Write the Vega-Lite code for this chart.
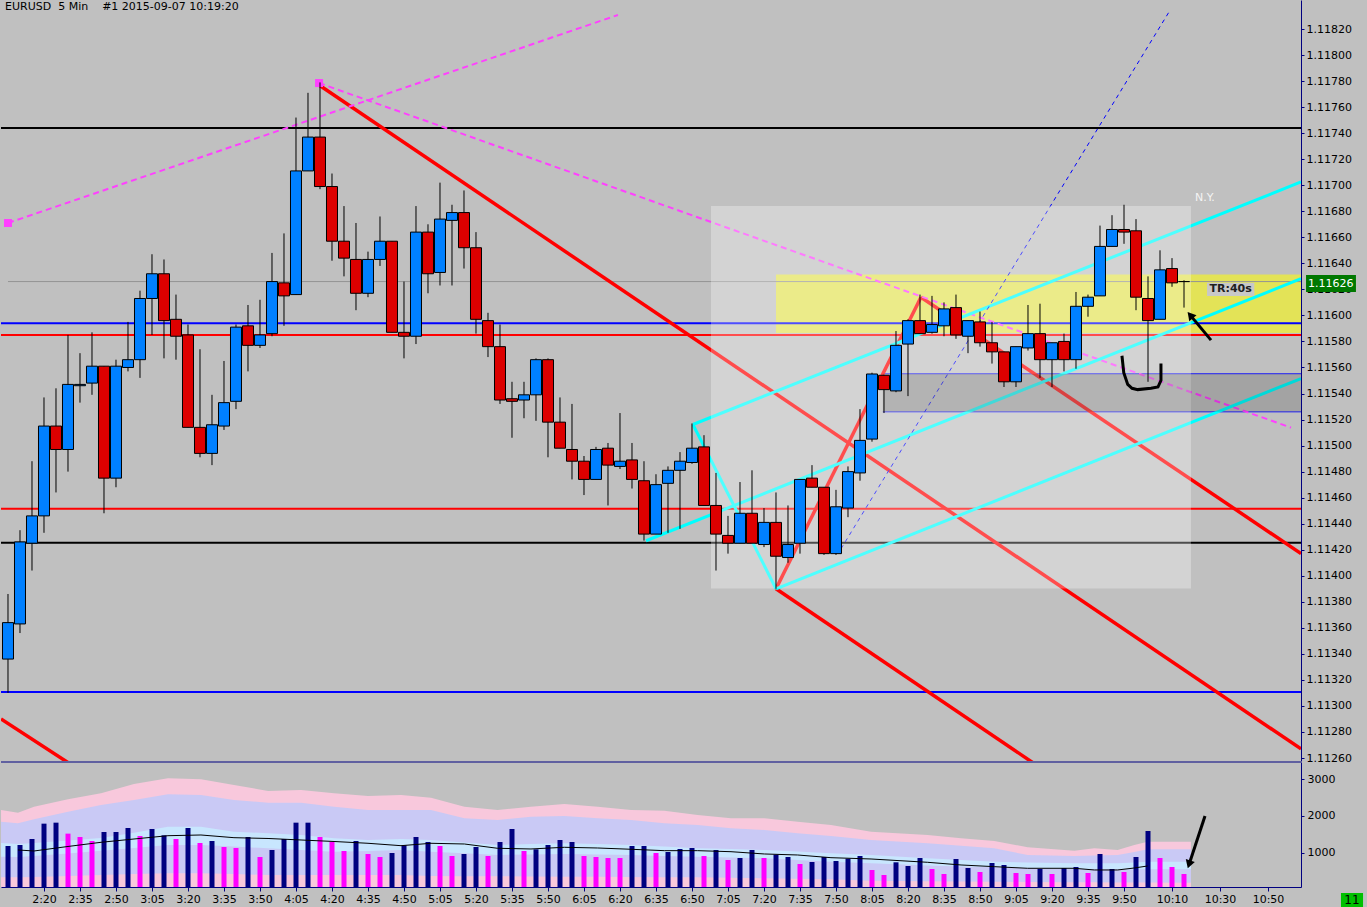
{
  "$schema": "https://vega.github.io/schema/vega-lite/v6.json",
  "background": "#c0c0c0",
  "padding": {"left": 0, "top": 0, "right": 5, "bottom": 0},
  "spacing": 1,
  "bounds": "flush",
  "config": {
    "view": {"stroke": null},
    "axis": {"labelFont": "DejaVu Sans", "labelFontSize": 11, "labelColor": "#000000", "domainColor": "#000080", "tickColor": "#000080", "grid": false, "tickSize": 3, "labelPadding": 2},
    "text": {"font": "DejaVu Sans"}
  },
  "resolve": {"scale": {"x": "independent", "y": "independent"}},
  "datasets": {
    "bars": [
      {"i":0,"o":1.11336,"h":1.11386,"l":1.11310,"c":1.11364,"v":1183,"vd":"up"},
      {"i":1,"o":1.11363,"h":1.11435,"l":1.11356,"c":1.11426,"v":1210,"vd":"up"},
      {"i":2,"o":1.11425,"h":1.11488,"l":1.11404,"c":1.11446,"v":1373,"vd":"up"},
      {"i":3,"o":1.11446,"h":1.11537,"l":1.11433,"c":1.11515,"v":1791,"vd":"up"},
      {"i":4,"o":1.11515,"h":1.11544,"l":1.11464,"c":1.11497,"v":1818,"vd":"up"},
      {"i":5,"o":1.11497,"h":1.11585,"l":1.11480,"c":1.11547,"v":1519,"vd":"down"},
      {"i":6,"o":1.11546,"h":1.11571,"l":1.11533,"c":1.11547,"v":1428,"vd":"down"},
      {"i":7,"o":1.11548,"h":1.11587,"l":1.11539,"c":1.11561,"v":1319,"vd":"down"},
      {"i":8,"o":1.11561,"h":1.11561,"l":1.11448,"c":1.11475,"v":1564,"vd":"up"},
      {"i":9,"o":1.11475,"h":1.11566,"l":1.11468,"c":1.11561,"v":1564,"vd":"up"},
      {"i":10,"o":1.11560,"h":1.11595,"l":1.11557,"c":1.11566,"v":1673,"vd":"up"},
      {"i":11,"o":1.11566,"h":1.11619,"l":1.11552,"c":1.11613,"v":1455,"vd":"down"},
      {"i":12,"o":1.11613,"h":1.11647,"l":1.11585,"c":1.11632,"v":1646,"vd":"up"},
      {"i":13,"o":1.11632,"h":1.11643,"l":1.11567,"c":1.11596,"v":1473,"vd":"up"},
      {"i":14,"o":1.11597,"h":1.11616,"l":1.11566,"c":1.11584,"v":1373,"vd":"down"},
      {"i":15,"o":1.11585,"h":1.11593,"l":1.11514,"c":1.11514,"v":1673,"vd":"up"},
      {"i":16,"o":1.11514,"h":1.11574,"l":1.11491,"c":1.11494,"v":1264,"vd":"down"},
      {"i":17,"o":1.11494,"h":1.11539,"l":1.11485,"c":1.11516,"v":1319,"vd":"up"},
      {"i":18,"o":1.11515,"h":1.11565,"l":1.11512,"c":1.11533,"v":1155,"vd":"down"},
      {"i":19,"o":1.11534,"h":1.11593,"l":1.11528,"c":1.11591,"v":1128,"vd":"down"},
      {"i":20,"o":1.11592,"h":1.11608,"l":1.11557,"c":1.11577,"v":1428,"vd":"up"},
      {"i":21,"o":1.11577,"h":1.11612,"l":1.11575,"c":1.11585,"v":883,"vd":"down"},
      {"i":22,"o":1.11586,"h":1.11648,"l":1.11584,"c":1.11626,"v":1074,"vd":"up"},
      {"i":23,"o":1.11625,"h":1.11663,"l":1.11592,"c":1.11615,"v":1373,"vd":"up"},
      {"i":24,"o":1.11616,"h":1.11752,"l":1.11616,"c":1.11711,"v":1818,"vd":"up"},
      {"i":25,"o":1.11711,"h":1.11771,"l":1.11711,"c":1.11737,"v":1818,"vd":"up"},
      {"i":26,"o":1.11737,"h":1.11779,"l":1.11697,"c":1.11699,"v":1428,"vd":"down"},
      {"i":27,"o":1.11699,"h":1.11709,"l":1.11642,"c":1.11657,"v":1301,"vd":"down"},
      {"i":28,"o":1.11657,"h":1.11684,"l":1.11630,"c":1.11644,"v":1046,"vd":"down"},
      {"i":29,"o":1.11643,"h":1.11671,"l":1.11604,"c":1.11617,"v":1319,"vd":"up"},
      {"i":30,"o":1.11617,"h":1.11649,"l":1.11614,"c":1.11643,"v":965,"vd":"down"},
      {"i":31,"o":1.11643,"h":1.11676,"l":1.11638,"c":1.11657,"v":883,"vd":"down"},
      {"i":32,"o":1.11657,"h":1.11657,"l":1.11587,"c":1.11587,"v":992,"vd":"up"},
      {"i":33,"o":1.11587,"h":1.11626,"l":1.11567,"c":1.11584,"v":1201,"vd":"up"},
      {"i":34,"o":1.11584,"h":1.11684,"l":1.11578,"c":1.11664,"v":1428,"vd":"up"},
      {"i":35,"o":1.11664,"h":1.11670,"l":1.11617,"c":1.11632,"v":1292,"vd":"up"},
      {"i":36,"o":1.11633,"h":1.11702,"l":1.11623,"c":1.11674,"v":1183,"vd":"down"},
      {"i":37,"o":1.11673,"h":1.11685,"l":1.11623,"c":1.11679,"v":910,"vd":"down"},
      {"i":38,"o":1.11679,"h":1.11696,"l":1.11636,"c":1.11652,"v":965,"vd":"up"},
      {"i":39,"o":1.11652,"h":1.11664,"l":1.11586,"c":1.11597,"v":1155,"vd":"up"},
      {"i":40,"o":1.11596,"h":1.11602,"l":1.11568,"c":1.11576,"v":910,"vd":"down"},
      {"i":41,"o":1.11576,"h":1.11593,"l":1.11532,"c":1.11535,"v":1292,"vd":"up"},
      {"i":42,"o":1.11536,"h":1.11549,"l":1.11506,"c":1.11534,"v":1646,"vd":"up"},
      {"i":43,"o":1.11535,"h":1.11549,"l":1.11521,"c":1.11539,"v":1046,"vd":"down"},
      {"i":44,"o":1.11539,"h":1.11567,"l":1.11519,"c":1.11566,"v":1092,"vd":"up"},
      {"i":45,"o":1.11566,"h":1.11567,"l":1.11491,"c":1.11518,"v":1210,"vd":"up"},
      {"i":46,"o":1.11518,"h":1.11537,"l":1.11498,"c":1.11498,"v":1346,"vd":"up"},
      {"i":47,"o":1.11497,"h":1.11532,"l":1.11474,"c":1.11488,"v":1292,"vd":"up"},
      {"i":48,"o":1.11488,"h":1.11492,"l":1.11462,"c":1.11474,"v":910,"vd":"down"},
      {"i":49,"o":1.11474,"h":1.11499,"l":1.11474,"c":1.11497,"v":883,"vd":"down"},
      {"i":50,"o":1.11498,"h":1.11502,"l":1.11454,"c":1.11485,"v":856,"vd":"down"},
      {"i":51,"o":1.11484,"h":1.11525,"l":1.11482,"c":1.11488,"v":856,"vd":"down"},
      {"i":52,"o":1.11489,"h":1.11502,"l":1.11467,"c":1.11474,"v":1183,"vd":"up"},
      {"i":53,"o":1.11473,"h":1.11488,"l":1.11427,"c":1.11432,"v":1183,"vd":"up"},
      {"i":54,"o":1.11432,"h":1.11478,"l":1.11432,"c":1.11470,"v":992,"vd":"down"},
      {"i":55,"o":1.11471,"h":1.11484,"l":1.11433,"c":1.11481,"v":1019,"vd":"up"},
      {"i":56,"o":1.11481,"h":1.11495,"l":1.11436,"c":1.11488,"v":1101,"vd":"up"},
      {"i":57,"o":1.11487,"h":1.11517,"l":1.11486,"c":1.11498,"v":1128,"vd":"up"},
      {"i":58,"o":1.11499,"h":1.11508,"l":1.11454,"c":1.11454,"v":910,"vd":"down"},
      {"i":59,"o":1.11454,"h":1.11479,"l":1.11404,"c":1.11432,"v":1074,"vd":"up"},
      {"i":60,"o":1.11431,"h":1.11446,"l":1.11417,"c":1.11425,"v":801,"vd":"down"},
      {"i":61,"o":1.11425,"h":1.11472,"l":1.11425,"c":1.11448,"v":856,"vd":"up"},
      {"i":62,"o":1.11448,"h":1.11481,"l":1.11425,"c":1.11425,"v":1074,"vd":"up"},
      {"i":63,"o":1.11424,"h":1.11452,"l":1.11422,"c":1.11441,"v":856,"vd":"down"},
      {"i":64,"o":1.11441,"h":1.11464,"l":1.11390,"c":1.11415,"v":946,"vd":"up"},
      {"i":65,"o":1.11414,"h":1.11454,"l":1.11410,"c":1.11424,"v":883,"vd":"up"},
      {"i":66,"o":1.11425,"h":1.11474,"l":1.11417,"c":1.11474,"v":692,"vd":"down"},
      {"i":67,"o":1.11475,"h":1.11485,"l":1.11468,"c":1.11468,"v":747,"vd":"up"},
      {"i":68,"o":1.11468,"h":1.11468,"l":1.11416,"c":1.11417,"v":883,"vd":"up"},
      {"i":69,"o":1.11417,"h":1.11466,"l":1.11416,"c":1.11453,"v":774,"vd":"up"},
      {"i":70,"o":1.11452,"h":1.11484,"l":1.11445,"c":1.11480,"v":837,"vd":"up"},
      {"i":71,"o":1.11479,"h":1.11528,"l":1.11473,"c":1.11504,"v":910,"vd":"up"},
      {"i":72,"o":1.11505,"h":1.11556,"l":1.11503,"c":1.11555,"v":529,"vd":"down"},
      {"i":73,"o":1.11554,"h":1.11554,"l":1.11525,"c":1.11543,"v":392,"vd":"down"},
      {"i":74,"o":1.11542,"h":1.11588,"l":1.11541,"c":1.11577,"v":738,"vd":"up"},
      {"i":75,"o":1.11578,"h":1.11597,"l":1.11538,"c":1.11596,"v":638,"vd":"up"},
      {"i":76,"o":1.11596,"h":1.11616,"l":1.11586,"c":1.11586,"v":856,"vd":"up"},
      {"i":77,"o":1.11587,"h":1.11615,"l":1.11586,"c":1.11593,"v":556,"vd":"down"},
      {"i":78,"o":1.11592,"h":1.11610,"l":1.11584,"c":1.11605,"v":420,"vd":"down"},
      {"i":79,"o":1.11606,"h":1.11616,"l":1.11582,"c":1.11585,"v":828,"vd":"up"},
      {"i":80,"o":1.11584,"h":1.11596,"l":1.11571,"c":1.11596,"v":583,"vd":"up"},
      {"i":81,"o":1.11595,"h":1.11603,"l":1.11576,"c":1.11579,"v":474,"vd":"down"},
      {"i":82,"o":1.11579,"h":1.11595,"l":1.11563,"c":1.11572,"v":719,"vd":"up"},
      {"i":83,"o":1.11572,"h":1.11572,"l":1.11545,"c":1.11549,"v":665,"vd":"up"},
      {"i":84,"o":1.11549,"h":1.11576,"l":1.11545,"c":1.11576,"v":447,"vd":"down"},
      {"i":85,"o":1.11575,"h":1.11608,"l":1.11573,"c":1.11586,"v":420,"vd":"down"},
      {"i":86,"o":1.11586,"h":1.11609,"l":1.11552,"c":1.11566,"v":556,"vd":"up"},
      {"i":87,"o":1.11566,"h":1.11579,"l":1.11545,"c":1.11579,"v":420,"vd":"down"},
      {"i":88,"o":1.11580,"h":1.11586,"l":1.11557,"c":1.11566,"v":583,"vd":"up"},
      {"i":89,"o":1.11566,"h":1.11618,"l":1.11559,"c":1.11607,"v":610,"vd":"up"},
      {"i":90,"o":1.11607,"h":1.11616,"l":1.11599,"c":1.11614,"v":447,"vd":"down"},
      {"i":91,"o":1.11615,"h":1.11669,"l":1.11615,"c":1.11653,"v":965,"vd":"up"},
      {"i":92,"o":1.11653,"h":1.11677,"l":1.11653,"c":1.11666,"v":556,"vd":"up"},
      {"i":93,"o":1.11666,"h":1.11685,"l":1.11655,"c":1.11664,"v":474,"vd":"down"},
      {"i":94,"o":1.11665,"h":1.11674,"l":1.11604,"c":1.11614,"v":883,"vd":"up"},
      {"i":95,"o":1.11613,"h":1.11630,"l":1.11549,"c":1.11596,"v":1591,"vd":"up"},
      {"i":96,"o":1.11597,"h":1.11650,"l":1.11597,"c":1.11635,"v":856,"vd":"down"},
      {"i":97,"o":1.11636,"h":1.11644,"l":1.11622,"c":1.11625,"v":610,"vd":"down"},
      {"i":98,"o":1.11626,"h":1.11627,"l":1.11606,"c":1.11626,"v":420,"vd":"down"}
    ],
    "bands": [
      {"i":-0.58,"pt":2164,"lt":1845,"bt":1264,"bb":891,"lb":330,"ma":1093},
      {"i":0.83,"pt":2090,"lt":1801,"bt":1237,"bb":883,"lb":330,"ma":1074},
      {"i":2.17,"pt":2254,"lt":1910,"bt":1264,"bb":910,"lb":338,"ma":1046},
      {"i":5,"pt":2455,"lt":2117,"bt":1333,"bb":978,"lb":365,"ma":1169},
      {"i":7.75,"pt":2619,"lt":2300,"bt":1401,"bb":1055,"lb":392,"ma":1283},
      {"i":10.5,"pt":2872,"lt":2436,"bt":1545,"bb":1128,"lb":420,"ma":1373},
      {"i":13.33,"pt":3027,"lt":2591,"bt":1709,"bb":1210,"lb":439,"ma":1463},
      {"i":16.08,"pt":3000,"lt":2572,"bt":1709,"bb":1210,"lb":439,"ma":1482},
      {"i":18.83,"pt":2845,"lt":2436,"bt":1572,"bb":1169,"lb":420,"ma":1409},
      {"i":21.67,"pt":2681,"lt":2363,"bt":1529,"bb":1120,"lb":392,"ma":1387},
      {"i":24.42,"pt":2709,"lt":2363,"bt":1482,"bb":1074,"lb":392,"ma":1346},
      {"i":27.17,"pt":2619,"lt":2254,"bt":1392,"bb":1027,"lb":392,"ma":1305},
      {"i":30,"pt":2545,"lt":2164,"bt":1346,"bb":1046,"lb":392,"ma":1256},
      {"i":32.75,"pt":2572,"lt":2164,"bt":1373,"bb":1074,"lb":392,"ma":1191},
      {"i":35.25,"pt":2499,"lt":2164,"bt":1346,"bb":1027,"lb":365,"ma":1256},
      {"i":38.03,"pt":2254,"lt":1937,"bt":1278,"bb":984,"lb":360,"ma":1237},
      {"i":40.8,"pt":2164,"lt":1891,"bt":1210,"bb":937,"lb":357,"ma":1120},
      {"i":43.58,"pt":2254,"lt":1981,"bt":1237,"bb":951,"lb":352,"ma":1101},
      {"i":46.36,"pt":2327,"lt":2000,"bt":1256,"bb":965,"lb":346,"ma":1147},
      {"i":49.14,"pt":2254,"lt":1937,"bt":1237,"bb":951,"lb":343,"ma":1128},
      {"i":51.92,"pt":2164,"lt":1891,"bt":1210,"bb":937,"lb":338,"ma":1093},
      {"i":54.69,"pt":2145,"lt":1801,"bt":1169,"bb":910,"lb":332,"ma":1055},
      {"i":57.47,"pt":2027,"lt":1755,"bt":1120,"bb":891,"lb":330,"ma":1055},
      {"i":60.25,"pt":1937,"lt":1665,"bt":1101,"bb":869,"lb":316,"ma":1027},
      {"i":63.03,"pt":1937,"lt":1619,"bt":1074,"bb":847,"lb":302,"ma":965},
      {"i":65.8,"pt":1845,"lt":1529,"bt":1033,"bb":801,"lb":289,"ma":937},
      {"i":68.58,"pt":1755,"lt":1455,"bt":984,"bb":755,"lb":275,"ma":864},
      {"i":71.92,"pt":1572,"lt":1346,"bt":937,"bb":711,"lb":237,"ma":828},
      {"i":76.64,"pt":1482,"lt":1256,"bt":847,"bb":651,"lb":223,"ma":738},
      {"i":79.42,"pt":1392,"lt":1188,"bt":801,"bb":627,"lb":218,"ma":665},
      {"i":82.19,"pt":1319,"lt":1120,"bt":755,"bb":602,"lb":210,"ma":619},
      {"i":84.97,"pt":1147,"lt":937,"bt":733,"bb":583,"lb":202,"ma":575},
      {"i":88.86,"pt":1055,"lt":910,"bt":711,"bb":548,"lb":196,"ma":575},
      {"i":90.53,"pt":1120,"lt":924,"bt":711,"bb":548,"lb":193,"ma":529},
      {"i":92.47,"pt":1074,"lt":937,"bt":711,"bb":548,"lb":191,"ma":529},
      {"i":93.86,"pt":1210,"lt":1019,"bt":733,"bb":548,"lb":188,"ma":583},
      {"i":94.97,"pt":1300,"lt":1093,"bt":755,"bb":548,"lb":185,"ma":638},
      {"i":98.58,"pt":1300,"lt":1093,"bt":755,"bb":548,"lb":183,"ma":638}
    ]
  },
  "vconcat": [
    {
      "width": 1300,
      "height": 761,
      "encoding": {
        "x": {"field": "i", "type": "quantitative", "scale": {"domain": [-0.5833, 107.75], "nice": false, "zero": false, "padding": 0}, "axis": null}
      },
      "layer": [
        {
          "data": {"values": [{"i": 64, "i2": 107.75, "p": 1.116315, "p2": 1.115864}]},
          "mark": {"type": "rect", "fill": "#ffff00", "opacity": 0.55},
          "encoding": {
            "x2": {"field": "i2"},
            "y": {"field": "p", "type": "quantitative", "scale": {"domain": [1.112577, 1.118423], "nice": false, "zero": false, "padding": 0},
              "axis": {"orient": "right", "title": null, "format": ".5f", "labelOverlap": false, "values": [1.1126, 1.1128, 1.113, 1.1132, 1.1134, 1.1136, 1.1138, 1.114, 1.1142, 1.1144, 1.1146, 1.1148, 1.115, 1.1152, 1.1154, 1.1156, 1.1158, 1.116, 1.1162, 1.1164, 1.1166, 1.1168, 1.117, 1.1172, 1.1174, 1.1176, 1.1178, 1.118, 1.1182]}},
            "y2": {"field": "p2"}
          }
        },
        {
          "data": {"values": [{"i": -0.5833, "i2": 107.75, "p": 1.11744}, {"i": -0.5833, "i2": 107.75, "p": 1.114254}]},
          "mark": {"type": "rule", "color": "#000000", "strokeWidth": 2},
          "encoding": {"x2": {"field": "i2"}, "y": {"field": "p", "type": "quantitative", "scale": {"domain": [1.112577, 1.118423], "nice": false, "zero": false, "padding": 0},
            "axis": {"orient": "right", "title": null, "format": ".5f", "labelOverlap": false, "values": [1.1126, 1.1128, 1.113, 1.1132, 1.1134, 1.1136, 1.1138, 1.114, 1.1142, 1.1144, 1.1146, 1.1148, 1.115, 1.1152, 1.1154, 1.1156, 1.1158, 1.116, 1.1162, 1.1164, 1.1166, 1.1168, 1.117, 1.1172, 1.1174, 1.1176, 1.1178, 1.118, 1.1182]}}}
        },
        {
          "data": {"values": [{"i": -0.5833, "i2": 107.75, "p": 1.11594}, {"i": -0.5833, "i2": 107.75, "p": 1.113108}]},
          "mark": {"type": "rule", "color": "#0000ff", "strokeWidth": 2},
          "encoding": {"x2": {"field": "i2"}, "y": {"field": "p", "type": "quantitative", "scale": {"domain": [1.112577, 1.118423], "nice": false, "zero": false, "padding": 0},
            "axis": {"orient": "right", "title": null, "format": ".5f", "labelOverlap": false, "values": [1.1126, 1.1128, 1.113, 1.1132, 1.1134, 1.1136, 1.1138, 1.114, 1.1142, 1.1144, 1.1146, 1.1148, 1.115, 1.1152, 1.1154, 1.1156, 1.1158, 1.116, 1.1162, 1.1164, 1.1166, 1.1168, 1.117, 1.1172, 1.1174, 1.1176, 1.1178, 1.118, 1.1182]}}}
        },
        {
          "data": {"values": [{"i": -0.5833, "i2": 107.75, "p": 1.11585}, {"i": -0.5833, "i2": 107.75, "p": 1.114515}]},
          "mark": {"type": "rule", "color": "#ff0000", "strokeWidth": 2},
          "encoding": {"x2": {"field": "i2"}, "y": {"field": "p", "type": "quantitative", "scale": {"domain": [1.112577, 1.118423], "nice": false, "zero": false, "padding": 0},
            "axis": {"orient": "right", "title": null, "format": ".5f", "labelOverlap": false, "values": [1.1126, 1.1128, 1.113, 1.1132, 1.1134, 1.1136, 1.1138, 1.114, 1.1142, 1.1144, 1.1146, 1.1148, 1.115, 1.1152, 1.1154, 1.1156, 1.1158, 1.116, 1.1162, 1.1164, 1.1166, 1.1168, 1.117, 1.1172, 1.1174, 1.1176, 1.1178, 1.118, 1.1182]}}}
        },
        {
          "data": {"values": [{"i": 0, "i2": 107.75, "p": 1.11626}]},
          "mark": {"type": "rule", "color": "#949494", "strokeWidth": 1},
          "encoding": {"x2": {"field": "i2"}, "y": {"field": "p", "type": "quantitative", "scale": {"domain": [1.112577, 1.118423], "nice": false, "zero": false, "padding": 0},
            "axis": {"orient": "right", "title": null, "format": ".5f", "labelOverlap": false, "values": [1.1126, 1.1128, 1.113, 1.1132, 1.1134, 1.1136, 1.1138, 1.114, 1.1142, 1.1144, 1.1146, 1.1148, 1.115, 1.1152, 1.1154, 1.1156, 1.1158, 1.116, 1.1162, 1.1164, 1.1166, 1.1168, 1.117, 1.1172, 1.1174, 1.1176, 1.1178, 1.118, 1.1182]}}}
        },
        {
          "data": {"values": [{"i": 72.9, "i2": 107.75, "p": 1.115552}, {"i": 72.9, "i2": 107.75, "p": 1.115259}]},
          "mark": {"type": "rule", "color": "#2020ff", "strokeWidth": 1},
          "encoding": {"x2": {"field": "i2"}, "y": {"field": "p", "type": "quantitative", "scale": {"domain": [1.112577, 1.118423], "nice": false, "zero": false, "padding": 0},
            "axis": {"orient": "right", "title": null, "format": ".5f", "labelOverlap": false, "values": [1.1126, 1.1128, 1.113, 1.1132, 1.1134, 1.1136, 1.1138, 1.114, 1.1142, 1.1144, 1.1146, 1.1148, 1.115, 1.1152, 1.1154, 1.1156, 1.1158, 1.116, 1.1162, 1.1164, 1.1166, 1.1168, 1.117, 1.1172, 1.1174, 1.1176, 1.1178, 1.118, 1.1182]}}}
        },
        {
          "data": {"values": [
            {"seg": "med", "i": 25.92, "p": 1.11777}, {"seg": "med", "i": 107.75, "p": 1.11267},
            {"seg": "lo", "i": 64, "p": 1.1139}, {"seg": "lo", "i": 91.08, "p": 1.11221},
            {"seg": "up", "i": 76.08, "p": 1.11614}, {"seg": "up", "i": 107.75, "p": 1.11417},
            {"seg": "hd", "i": 64, "p": 1.1139}, {"seg": "hd", "i": 76.08, "p": 1.11614},
            {"seg": "bl", "i": -0.5833, "p": 1.1129}, {"seg": "bl", "i": 7.75, "p": 1.1124}
          ]},
          "mark": {"type": "line", "color": "#ff0000", "strokeWidth": 3.5, "clip": true},
          "encoding": {"detail": {"field": "seg"}, "y": {"field": "p", "type": "quantitative", "scale": {"domain": [1.112577, 1.118423], "nice": false, "zero": false, "padding": 0},
            "axis": {"orient": "right", "title": null, "format": ".5f", "labelOverlap": false, "values": [1.1126, 1.1128, 1.113, 1.1132, 1.1134, 1.1136, 1.1138, 1.114, 1.1142, 1.1144, 1.1146, 1.1148, 1.115, 1.1152, 1.1154, 1.1156, 1.1158, 1.116, 1.1162, 1.1164, 1.1166, 1.1168, 1.117, 1.1172, 1.1174, 1.1176, 1.1178, 1.118, 1.1182]}}}
        },
        {
          "data": {"values": [
            {"seg": "a", "i": 0, "p": 1.11671}, {"seg": "a", "i": 50.83, "p": 1.118308},
            {"seg": "b", "i": 25.92, "p": 1.117785}, {"seg": "b", "i": 106.92, "p": 1.115138}
          ]},
          "mark": {"type": "line", "color": "#ff40ff", "strokeWidth": 2, "strokeDash": [6, 4], "clip": true},
          "encoding": {"detail": {"field": "seg"}, "y": {"field": "p", "type": "quantitative", "scale": {"domain": [1.112577, 1.118423], "nice": false, "zero": false, "padding": 0},
            "axis": {"orient": "right", "title": null, "format": ".5f", "labelOverlap": false, "values": [1.1126, 1.1128, 1.113, 1.1132, 1.1134, 1.1136, 1.1138, 1.114, 1.1142, 1.1144, 1.1146, 1.1148, 1.115, 1.1152, 1.1154, 1.1156, 1.1158, 1.116, 1.1162, 1.1164, 1.1166, 1.1168, 1.117, 1.1172, 1.1174, 1.1176, 1.1178, 1.118, 1.1182]}}}
        },
        {
          "data": {"values": [
            {"seg": "c1", "i": 57.08, "p": 1.115162}, {"seg": "c1", "i": 107.75, "p": 1.117025},
            {"seg": "c2", "i": 53.17, "p": 1.114269}, {"seg": "c2", "i": 107.75, "p": 1.116282},
            {"seg": "c3", "i": 64, "p": 1.1139}, {"seg": "c3", "i": 107.75, "p": 1.115515},
            {"seg": "ch", "i": 57.08, "p": 1.115162}, {"seg": "ch", "i": 64, "p": 1.1139}
          ]},
          "mark": {"type": "line", "color": "#00ffff", "strokeWidth": 3, "clip": true},
          "encoding": {"detail": {"field": "seg"}, "y": {"field": "p", "type": "quantitative", "scale": {"domain": [1.112577, 1.118423], "nice": false, "zero": false, "padding": 0},
            "axis": {"orient": "right", "title": null, "format": ".5f", "labelOverlap": false, "values": [1.1126, 1.1128, 1.113, 1.1132, 1.1134, 1.1136, 1.1138, 1.114, 1.1142, 1.1144, 1.1146, 1.1148, 1.115, 1.1152, 1.1154, 1.1156, 1.1158, 1.116, 1.1162, 1.1164, 1.1166, 1.1168, 1.117, 1.1172, 1.1174, 1.1176, 1.1178, 1.118, 1.1182]}}}
        },
        {
          "data": {"values": [{"i": 69.42, "p": 1.114208}, {"i": 96.75, "p": 1.118331}]},
          "mark": {"type": "line", "color": "#0000ff", "strokeWidth": 1, "strokeDash": [4, 4], "clip": true},
          "encoding": {"y": {"field": "p", "type": "quantitative", "scale": {"domain": [1.112577, 1.118423], "nice": false, "zero": false, "padding": 0},
            "axis": {"orient": "right", "title": null, "format": ".5f", "labelOverlap": false, "values": [1.1126, 1.1128, 1.113, 1.1132, 1.1134, 1.1136, 1.1138, 1.114, 1.1142, 1.1144, 1.1146, 1.1148, 1.115, 1.1152, 1.1154, 1.1156, 1.1158, 1.116, 1.1162, 1.1164, 1.1166, 1.1168, 1.117, 1.1172, 1.1174, 1.1176, 1.1178, 1.118, 1.1182]}}}
        },
        {
          "data": {"values": [{"i": 0, "p": 1.11671}, {"i": 25.92, "p": 1.117785}]},
          "mark": {"type": "point", "shape": "square", "size": 64, "filled": true, "color": "#ff40ff", "opacity": 1},
          "encoding": {"y": {"field": "p", "type": "quantitative", "scale": {"domain": [1.112577, 1.118423], "nice": false, "zero": false, "padding": 0},
            "axis": {"orient": "right", "title": null, "format": ".5f", "labelOverlap": false, "values": [1.1126, 1.1128, 1.113, 1.1132, 1.1134, 1.1136, 1.1138, 1.114, 1.1142, 1.1144, 1.1146, 1.1148, 1.115, 1.1152, 1.1154, 1.1156, 1.1158, 1.116, 1.1162, 1.1164, 1.1166, 1.1168, 1.117, 1.1172, 1.1174, 1.1176, 1.1178, 1.118, 1.1182]}}}
        },
        {
          "data": {"values": [{"i": 58.58, "i2": 98.58, "p": 1.116841, "p2": 1.113902}]},
          "mark": {"type": "rect", "fill": "#ffffff", "opacity": 0.3},
          "encoding": {"x2": {"field": "i2"}, "y2": {"field": "p2"}, "y": {"field": "p", "type": "quantitative", "scale": {"domain": [1.112577, 1.118423], "nice": false, "zero": false, "padding": 0},
            "axis": {"orient": "right", "title": null, "format": ".5f", "labelOverlap": false, "values": [1.1126, 1.1128, 1.113, 1.1132, 1.1134, 1.1136, 1.1138, 1.114, 1.1142, 1.1144, 1.1146, 1.1148, 1.115, 1.1152, 1.1154, 1.1156, 1.1158, 1.116, 1.1162, 1.1164, 1.1166, 1.1168, 1.117, 1.1172, 1.1174, 1.1176, 1.1178, 1.118, 1.1182]}}}
        },
        {
          "data": {"values": [{"i": 72.9, "i2": 107.75, "p": 1.115552, "p2": 1.115259}]},
          "mark": {"type": "rect", "fill": "#000000", "opacity": 0.15},
          "encoding": {"x2": {"field": "i2"}, "y2": {"field": "p2"}, "y": {"field": "p", "type": "quantitative", "scale": {"domain": [1.112577, 1.118423], "nice": false, "zero": false, "padding": 0},
            "axis": {"orient": "right", "title": null, "format": ".5f", "labelOverlap": false, "values": [1.1126, 1.1128, 1.113, 1.1132, 1.1134, 1.1136, 1.1138, 1.114, 1.1142, 1.1144, 1.1146, 1.1148, 1.115, 1.1152, 1.1154, 1.1156, 1.1158, 1.116, 1.1162, 1.1164, 1.1166, 1.1168, 1.117, 1.1172, 1.1174, 1.1176, 1.1178, 1.118, 1.1182]}}}
        },
        {
          "data": {"name": "bars"},
          "mark": {"type": "rule", "color": "#000000", "strokeWidth": 1},
          "encoding": {"y2": {"field": "h"}, "y": {"field": "l", "type": "quantitative", "scale": {"domain": [1.112577, 1.118423], "nice": false, "zero": false, "padding": 0},
            "axis": {"orient": "right", "title": null, "format": ".5f", "labelOverlap": false, "values": [1.1126, 1.1128, 1.113, 1.1132, 1.1134, 1.1136, 1.1138, 1.114, 1.1142, 1.1144, 1.1146, 1.1148, 1.115, 1.1152, 1.1154, 1.1156, 1.1158, 1.116, 1.1162, 1.1164, 1.1166, 1.1168, 1.117, 1.1172, 1.1174, 1.1176, 1.1178, 1.118, 1.1182]}}}
        },
        {
          "data": {"name": "bars"},
          "mark": {"type": "bar", "width": 11, "stroke": "#000000", "strokeWidth": 1},
          "encoding": {
            "y2": {"field": "c"},
            "fill": {"condition": {"test": "datum.c < datum.o", "value": "#dd0000"}, "value": "#0080ff"},
            "y": {"field": "o", "type": "quantitative", "scale": {"domain": [1.112577, 1.118423], "nice": false, "zero": false, "padding": 0},
              "axis": {"orient": "right", "title": null, "format": ".5f", "labelOverlap": false, "values": [1.1126, 1.1128, 1.113, 1.1132, 1.1134, 1.1136, 1.1138, 1.114, 1.1142, 1.1144, 1.1146, 1.1148, 1.115, 1.1152, 1.1154, 1.1156, 1.1158, 1.116, 1.1162, 1.1164, 1.1166, 1.1168, 1.117, 1.1172, 1.1174, 1.1176, 1.1178, 1.118, 1.1182]}}
          }
        },
        {
          "data": {"values": [
            {"k": 1, "i": 92.83, "p": 1.11569}, {"k": 2, "i": 92.98, "p": 1.11556}, {"k": 3, "i": 93.31, "p": 1.11547},
            {"k": 4, "i": 93.67, "p": 1.11544}, {"k": 5, "i": 94.14, "p": 1.11543}, {"k": 6, "i": 95.25, "p": 1.11544},
            {"k": 7, "i": 95.83, "p": 1.11545}, {"k": 8, "i": 96.08, "p": 1.1155}, {"k": 9, "i": 96.08, "p": 1.11563}
          ]},
          "mark": {"type": "line", "color": "#000000", "strokeWidth": 3},
          "encoding": {"order": {"field": "k"}, "y": {"field": "p", "type": "quantitative", "scale": {"domain": [1.112577, 1.118423], "nice": false, "zero": false, "padding": 0},
            "axis": {"orient": "right", "title": null, "format": ".5f", "labelOverlap": false, "values": [1.1126, 1.1128, 1.113, 1.1132, 1.1134, 1.1136, 1.1138, 1.114, 1.1142, 1.1144, 1.1146, 1.1148, 1.115, 1.1152, 1.1154, 1.1156, 1.1158, 1.116, 1.1162, 1.1164, 1.1166, 1.1168, 1.117, 1.1172, 1.1174, 1.1176, 1.1178, 1.118, 1.1182]}}}
        },
        {
          "data": {"values": [{"i": 100.25, "p": 1.11581}, {"i": 98.52, "p": 1.116002}]},
          "mark": {"type": "line", "color": "#000000", "strokeWidth": 3},
          "encoding": {"y": {"field": "p", "type": "quantitative", "scale": {"domain": [1.112577, 1.118423], "nice": false, "zero": false, "padding": 0},
            "axis": {"orient": "right", "title": null, "format": ".5f", "labelOverlap": false, "values": [1.1126, 1.1128, 1.113, 1.1132, 1.1134, 1.1136, 1.1138, 1.114, 1.1142, 1.1144, 1.1146, 1.1148, 1.115, 1.1152, 1.1154, 1.1156, 1.1158, 1.116, 1.1162, 1.1164, 1.1166, 1.1168, 1.117, 1.1172, 1.1174, 1.1176, 1.1178, 1.118, 1.1182]}}}
        },
        {
          "data": {"values": [{"i": 98.52, "p": 1.116002}]},
          "mark": {"type": "point", "shape": "triangle-up", "size": 90, "filled": true, "color": "#000000", "opacity": 1, "angle": 320},
          "encoding": {"y": {"field": "p", "type": "quantitative", "scale": {"domain": [1.112577, 1.118423], "nice": false, "zero": false, "padding": 0},
            "axis": {"orient": "right", "title": null, "format": ".5f", "labelOverlap": false, "values": [1.1126, 1.1128, 1.113, 1.1132, 1.1134, 1.1136, 1.1138, 1.114, 1.1142, 1.1144, 1.1146, 1.1148, 1.115, 1.1152, 1.1154, 1.1156, 1.1158, 1.116, 1.1162, 1.1164, 1.1166, 1.1168, 1.117, 1.1172, 1.1174, 1.1176, 1.1178, 1.118, 1.1182]}}}
        },
        {
          "data": {"values": [{"i": 99.92, "i2": 103.86, "p": 1.11625, "p2": 1.11615}]},
          "mark": {"type": "rect", "fill": "#c8c8c8"},
          "encoding": {"x2": {"field": "i2"}, "y2": {"field": "p2"}, "y": {"field": "p", "type": "quantitative", "scale": {"domain": [1.112577, 1.118423], "nice": false, "zero": false, "padding": 0},
            "axis": {"orient": "right", "title": null, "format": ".5f", "labelOverlap": false, "values": [1.1126, 1.1128, 1.113, 1.1132, 1.1134, 1.1136, 1.1138, 1.114, 1.1142, 1.1144, 1.1146, 1.1148, 1.115, 1.1152, 1.1154, 1.1156, 1.1158, 1.116, 1.1162, 1.1164, 1.1166, 1.1168, 1.117, 1.1172, 1.1174, 1.1176, 1.1178, 1.118, 1.1182]}}}
        },
        {
          "data": {"values": [{"i": 101.89, "p": 1.1162, "t": "TR:40s"}]},
          "mark": {"type": "text", "fontSize": 11, "fontWeight": "bold", "color": "#202020", "align": "center", "baseline": "middle"},
          "encoding": {"text": {"field": "t"}, "y": {"field": "p", "type": "quantitative", "scale": {"domain": [1.112577, 1.118423], "nice": false, "zero": false, "padding": 0},
            "axis": {"orient": "right", "title": null, "format": ".5f", "labelOverlap": false, "values": [1.1126, 1.1128, 1.113, 1.1132, 1.1134, 1.1136, 1.1138, 1.114, 1.1142, 1.1144, 1.1146, 1.1148, 1.115, 1.1152, 1.1154, 1.1156, 1.1158, 1.116, 1.1162, 1.1164, 1.1166, 1.1168, 1.117, 1.1172, 1.1174, 1.1176, 1.1178, 1.118, 1.1182]}}}
        },
        {
          "data": {"values": [{"i": 98.92, "p": 1.11690, "t": "N.Y."}]},
          "mark": {"type": "text", "fontSize": 11, "color": "#f4f4f4", "align": "left", "baseline": "middle"},
          "encoding": {"text": {"field": "t"}, "y": {"field": "p", "type": "quantitative", "scale": {"domain": [1.112577, 1.118423], "nice": false, "zero": false, "padding": 0},
            "axis": {"orient": "right", "title": null, "format": ".5f", "labelOverlap": false, "values": [1.1126, 1.1128, 1.113, 1.1132, 1.1134, 1.1136, 1.1138, 1.114, 1.1142, 1.1144, 1.1146, 1.1148, 1.115, 1.1152, 1.1154, 1.1156, 1.1158, 1.116, 1.1162, 1.1164, 1.1166, 1.1168, 1.117, 1.1172, 1.1174, 1.1176, 1.1178, 1.118, 1.1182]}}}
        },
        {
          "data": {"values": [{"i": -0.25, "p": 1.11837, "t": "EURUSD\u00a0\u00a05 Min\u00a0\u00a0\u00a0\u00a0#1 2015-09-07 10:19:20"}]},
          "mark": {"type": "text", "fontSize": 11, "color": "#000000", "align": "left", "baseline": "middle"},
          "encoding": {"text": {"field": "t"}, "y": {"field": "p", "type": "quantitative", "scale": {"domain": [1.112577, 1.118423], "nice": false, "zero": false, "padding": 0},
            "axis": {"orient": "right", "title": null, "format": ".5f", "labelOverlap": false, "values": [1.1126, 1.1128, 1.113, 1.1132, 1.1134, 1.1136, 1.1138, 1.114, 1.1142, 1.1144, 1.1146, 1.1148, 1.115, 1.1152, 1.1154, 1.1156, 1.1158, 1.116, 1.1162, 1.1164, 1.1166, 1.1168, 1.117, 1.1172, 1.1174, 1.1176, 1.1178, 1.118, 1.1182]}}}
        },
        {
          "data": {"values": [{"i": 108.17, "i2": 112.33, "p": 1.11631, "p2": 1.11618}]},
          "mark": {"type": "rect", "fill": "#007800", "clip": false},
          "encoding": {"x2": {"field": "i2"}, "y2": {"field": "p2"}, "y": {"field": "p", "type": "quantitative", "scale": {"domain": [1.112577, 1.118423], "nice": false, "zero": false, "padding": 0},
            "axis": {"orient": "right", "title": null, "format": ".5f", "labelOverlap": false, "values": [1.1126, 1.1128, 1.113, 1.1132, 1.1134, 1.1136, 1.1138, 1.114, 1.1142, 1.1144, 1.1146, 1.1148, 1.115, 1.1152, 1.1154, 1.1156, 1.1158, 1.116, 1.1162, 1.1164, 1.1166, 1.1168, 1.117, 1.1172, 1.1174, 1.1176, 1.1178, 1.118, 1.1182]}}}
        },
        {
          "data": {"values": [{"i": 108.33, "p": 1.116245, "t": "1.11626"}]},
          "mark": {"type": "text", "fontSize": 11, "color": "#ffffff", "align": "left", "baseline": "middle", "clip": false},
          "encoding": {"text": {"field": "t"}, "y": {"field": "p", "type": "quantitative", "scale": {"domain": [1.112577, 1.118423], "nice": false, "zero": false, "padding": 0},
            "axis": {"orient": "right", "title": null, "format": ".5f", "labelOverlap": false, "values": [1.1126, 1.1128, 1.113, 1.1132, 1.1134, 1.1136, 1.1138, 1.114, 1.1142, 1.1144, 1.1146, 1.1148, 1.115, 1.1152, 1.1154, 1.1156, 1.1158, 1.116, 1.1162, 1.1164, 1.1166, 1.1168, 1.117, 1.1172, 1.1174, 1.1176, 1.1178, 1.118, 1.1182]}}}
        }
      ]
    },
    {
      "width": 1300,
      "height": 125,
      "encoding": {
        "x": {"field": "i", "type": "quantitative", "scale": {"domain": [-0.5833, 107.75], "nice": false, "zero": false, "padding": 0},
          "axis": {"orient": "bottom", "title": null, "tickSize": 4, "labelPadding": 2, "labelFlush": false, "labelOverlap": false,
            "values": [3, 6, 9, 12, 15, 18, 21, 24, 27, 30, 33, 36, 39, 42, 45, 48, 51, 54, 57, 60, 63, 66, 69, 72, 75, 78, 81, 84, 87, 90, 93, 97, 101, 105],
            "labelExpr": "floor((125 + 5 * datum.value) / 60) + ':' + (((125 + 5 * datum.value) % 60) < 10 ? '0' : '') + ((125 + 5 * datum.value) % 60)"}}
      },
      "layer": [
        {
          "data": {"name": "bands"},
          "mark": {"type": "area", "color": "#f8c8dc"},
          "encoding": {"y2": {"datum": 65}, "y": {"field": "pt", "type": "quantitative", "scale": {"domain": [65, 3471], "nice": false, "zero": false, "padding": 0},
            "axis": {"orient": "right", "title": null, "format": "d", "labelOverlap": false, "labelPadding": 3, "values": [1000, 2000, 3000]}}}
        },
        {
          "data": {"name": "bands"},
          "mark": {"type": "area", "color": "#c9c9f5"},
          "encoding": {"y2": {"field": "lb"}, "y": {"field": "lt", "type": "quantitative", "scale": {"domain": [65, 3471], "nice": false, "zero": false, "padding": 0},
            "axis": {"orient": "right", "title": null, "format": "d", "labelOverlap": false, "labelPadding": 3, "values": [1000, 2000, 3000]}}}
        },
        {
          "data": {"name": "bands"},
          "mark": {"type": "area", "color": "#c8e6fe"},
          "encoding": {"y2": {"field": "bb"}, "y": {"field": "bt", "type": "quantitative", "scale": {"domain": [65, 3471], "nice": false, "zero": false, "padding": 0},
            "axis": {"orient": "right", "title": null, "format": "d", "labelOverlap": false, "labelPadding": 3, "values": [1000, 2000, 3000]}}}
        },
        {
          "data": {"values": [{"i": -0.5833, "i2": 107.75, "v": 3471}]},
          "mark": {"type": "rule", "color": "#000080", "strokeWidth": 1},
          "encoding": {"x2": {"field": "i2"}, "y": {"field": "v", "type": "quantitative", "scale": {"domain": [65, 3471], "nice": false, "zero": false, "padding": 0},
            "axis": {"orient": "right", "title": null, "format": "d", "labelOverlap": false, "labelPadding": 3, "values": [1000, 2000, 3000]}}}
        },
        {
          "data": {"name": "bars"},
          "mark": {"type": "bar", "width": 5},
          "encoding": {
            "y2": {"datum": 65},
            "color": {"field": "vd", "type": "nominal", "scale": {"domain": ["up", "down"], "range": ["#000080", "#ff00ff"]}, "legend": null},
            "y": {"field": "v", "type": "quantitative", "scale": {"domain": [65, 3471], "nice": false, "zero": false, "padding": 0},
              "axis": {"orient": "right", "title": null, "format": "d", "labelOverlap": false, "labelPadding": 3, "values": [1000, 2000, 3000]}}
          }
        },
        {
          "data": {"name": "bands"},
          "transform": [{"filter": "datum.i >= 0 && datum.i <= 98"}],
          "mark": {"type": "line", "color": "#000000", "strokeWidth": 1},
          "encoding": {"y": {"field": "ma", "type": "quantitative", "scale": {"domain": [65, 3471], "nice": false, "zero": false, "padding": 0},
            "axis": {"orient": "right", "title": null, "format": "d", "labelOverlap": false, "labelPadding": 3, "values": [1000, 2000, 3000]}}}
        },
        {
          "data": {"values": [{"i": 99.75, "v": 2000}, {"i": 98.42, "v": 679}]},
          "mark": {"type": "line", "color": "#000000", "strokeWidth": 3},
          "encoding": {"y": {"field": "v", "type": "quantitative", "scale": {"domain": [65, 3471], "nice": false, "zero": false, "padding": 0},
            "axis": {"orient": "right", "title": null, "format": "d", "labelOverlap": false, "labelPadding": 3, "values": [1000, 2000, 3000]}}}
        },
        {
          "data": {"values": [{"i": 98.42, "v": 679}]},
          "mark": {"type": "point", "shape": "triangle-up", "size": 90, "filled": true, "color": "#000000", "opacity": 1, "angle": 198},
          "encoding": {"y": {"field": "v", "type": "quantitative", "scale": {"domain": [65, 3471], "nice": false, "zero": false, "padding": 0},
            "axis": {"orient": "right", "title": null, "format": "d", "labelOverlap": false, "labelPadding": 3, "values": [1000, 2000, 3000]}}}
        },
        {
          "data": {"values": [{"i": 111.08, "i2": 112.92, "v": -98, "v2": -480}]},
          "mark": {"type": "rect", "fill": "#00c000", "clip": false},
          "encoding": {"x2": {"field": "i2"}, "y2": {"field": "v2"}, "y": {"field": "v", "type": "quantitative", "scale": {"domain": [65, 3471], "nice": false, "zero": false, "padding": 0},
            "axis": {"orient": "right", "title": null, "format": "d", "labelOverlap": false, "labelPadding": 3, "values": [1000, 2000, 3000]}}}
        },
        {
          "data": {"values": [{"i": 112.0, "v": -290, "t": "11"}]},
          "mark": {"type": "text", "fontSize": 12, "color": "#000000", "align": "center", "baseline": "middle", "clip": false},
          "encoding": {"text": {"field": "t"}, "y": {"field": "v", "type": "quantitative", "scale": {"domain": [65, 3471], "nice": false, "zero": false, "padding": 0},
            "axis": {"orient": "right", "title": null, "format": "d", "labelOverlap": false, "labelPadding": 3, "values": [1000, 2000, 3000]}}}
        }
      ]
    }
  ]
}
